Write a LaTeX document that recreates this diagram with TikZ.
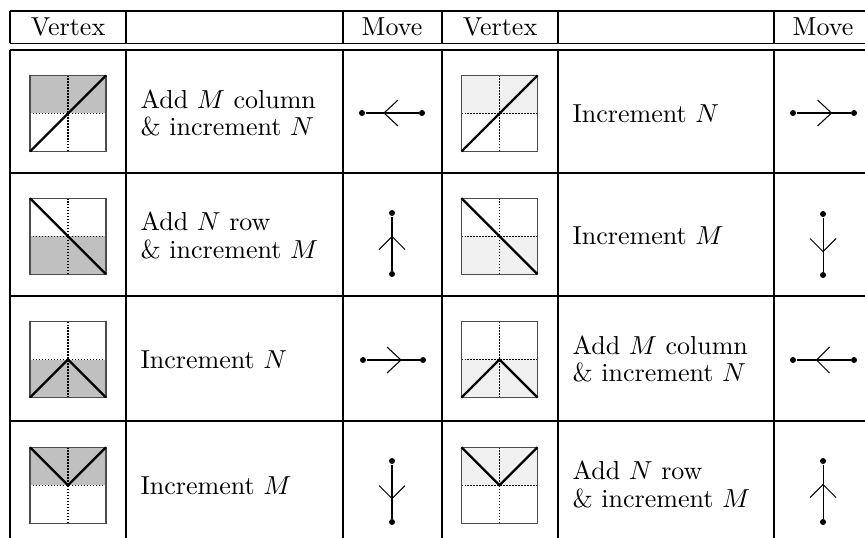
\documentclass[tikz,border=0pt]{standalone}
\definecolor{dk}{HTML}{C0C0C0}
\definecolor{lt}{HTML}{F0F0F0}
\tikzset{
  x=0.3846pt, y=-0.3846pt,
  rulen/.style={line width=0.55pt},
  ruleb/.style={line width=0.85pt},
  sqframe/.style={draw=black!70, line width=0.45pt},
  midln/.style={dash pattern=on 0.5pt off 0.65pt, line width=0.45pt},
  diagln/.style={line width=0.9pt},
  movln/.style={line width=0.4pt},
  dotn/.style={circle, fill, inner sep=0pt, minimum size=2.3pt},
  txt/.style={anchor=west, inner sep=0pt, align=left},
  hdr/.style={inner sep=0pt, anchor=base}
}
\newcommand\vsquare[4]{%
  \begin{scope}[shift={#1}]
    \fill[#2] #3;
    \draw[midln] (-38,0)--(38,0) (0,-38)--(0,38);
    \draw[sqframe] (-38,-38) rectangle (38,38);
    \draw[diagln] #4;
  \end{scope}}
\begin{document}
\begin{tikzpicture}
\useasboundingbox (0,0) rectangle (865,537);
\clip (0,0) rectangle (865,537);
% table rules
\draw[rulen] (10,11)--(880,11) (10,43.3)--(880,43.3)
  (10,173)--(880,173) (10,296)--(880,296) (10,421)--(880,421);
\draw[ruleb] (10,50)--(880,50);
\draw[rulen] (10,11)--(10,43.3) (126,11)--(126,43.3) (442,11)--(442,43.3) (558,11)--(558,43.3) (872,11)--(872,43.3);
\draw[ruleb] (343,11)--(343,43.3) (774,11)--(774,43.3);
\draw[rulen] (10,50)--(10,545) (126,50)--(126,545) (442,50)--(442,545) (558,50)--(558,545) (872,50)--(872,545);
\draw[ruleb] (343,50)--(343,545) (774,50)--(774,545);
% header
\node[hdr] (h1) at (68,35) {Vertex};
\node[hdr] (h2) at (392,35) {Move};
\node[hdr] (h3) at (500,35) {Vertex};
\node[hdr] (h4) at (823,35) {Move};
% vertex squares
\vsquare{(68,113.4)}{dk}{(-38,-38) rectangle (38,0)}{(-38,38)--(38,-38)}
\vsquare{(499.5,113.4)}{lt}{(-38,-38) rectangle (38,0)}{(-38,38)--(38,-38)}
\vsquare{(68,236.2)}{dk}{(-38,0) rectangle (38,38)}{(-38,-38)--(38,38)}
\vsquare{(499.5,236.2)}{lt}{(-38,0) rectangle (38,38)}{(-38,-38)--(38,38)}
\vsquare{(68,359.5)}{dk}{(-38,0) rectangle (38,38)}{(-38,38)--(0,0)--(38,38)}
\vsquare{(499.5,359.5)}{lt}{(-38,0) rectangle (38,38)}{(-38,38)--(0,0)--(38,38)}
\vsquare{(68,485.3)}{dk}{(-38,-38) rectangle (38,0)}{(-38,-38)--(0,0)--(38,-38)}
\vsquare{(499.5,485.3)}{lt}{(-38,-38) rectangle (38,0)}{(-38,-38)--(0,0)--(38,-38)}
% texts
\node[txt] (t1) at (140,113) {Add $M$ column\\[-1.5pt]\& increment $N$};
\node[txt] (t2) at (572,113.4) {Increment $N$};
\node[txt] (t3) at (140,235.5) {Add $N$ row\\[-1.5pt]\& increment $M$};
\node[txt] (t4) at (572,236.2) {Increment $M$};
\node[txt] (t5) at (140,359.5) {Increment $N$};
\node[txt] (t6) at (572,359) {Add $M$ column\\[-1.5pt]\& increment $N$};
\node[txt] (t7) at (140,485.3) {Increment $M$};
\node[txt] (t8) at (572,484.5) {Add $N$ row\\[-1.5pt]\& increment $M$};
% moves row 1
\node[dotn] (a1) at (362,113) {}; \node[dotn] (b1) at (422,113) {};
\draw[movln] (a1)--(b1);
\coordinate (c1) at (392,113);
\draw[movln] ([shift={(6,-13)}]c1)--([shift={(-8,0)}]c1)--([shift={(6,13)}]c1);
\node[dotn] (a2) at (793,113) {}; \node[dotn] (b2) at (854,113) {};
\draw[movln] (a2)--(b2);
\coordinate (c2) at (823.5,113);
\draw[movln] ([shift={(-6,-13)}]c2)--([shift={(8,0)}]c2)--([shift={(-6,13)}]c2);
% row 2
\node[dotn] (a3) at (392,213) {}; \node[dotn] (b3) at (392,274) {};
\draw[movln] (a3)--(b3);
\coordinate (c3) at (392,243.5);
\draw[movln] ([shift={(-13,6)}]c3)--([shift={(0,-7)}]c3)--([shift={(13,6)}]c3);
\node[dotn] (a4) at (823,214) {}; \node[dotn] (b4) at (823,275) {};
\draw[movln] (a4)--(b4);
\coordinate (c4) at (823,244.5);
\draw[movln] ([shift={(-13,-6)}]c4)--([shift={(0,7)}]c4)--([shift={(13,-6)}]c4);
% row 3
\node[dotn] (a5) at (363,360) {}; \node[dotn] (b5) at (423,360) {};
\draw[movln] (a5)--(b5);
\coordinate (c5) at (393,360);
\draw[movln] ([shift={(-6,-13)}]c5)--([shift={(8,0)}]c5)--([shift={(-6,13)}]c5);
\node[dotn] (a6) at (793,360) {}; \node[dotn] (b6) at (854,360) {};
\draw[movln] (a6)--(b6);
\coordinate (c6) at (823.5,360);
\draw[movln] ([shift={(6,-13)}]c6)--([shift={(-7,0)}]c6)--([shift={(6,13)}]c6);
% row 4
\node[dotn] (a7) at (392,461) {}; \node[dotn] (b7) at (392,522) {};
\draw[movln] (a7)--(b7);
\coordinate (c7) at (392,491.5);
\draw[movln] ([shift={(-13,-6)}]c7)--([shift={(0,7)}]c7)--([shift={(13,-6)}]c7);
\node[dotn] (a8) at (823,461) {}; \node[dotn] (b8) at (823,522) {};
\draw[movln] (a8)--(b8);
\coordinate (c8) at (823,491.5);
\draw[movln] ([shift={(-13,6)}]c8)--([shift={(0,-7)}]c8)--([shift={(13,6)}]c8);
\end{tikzpicture}
\end{document}
